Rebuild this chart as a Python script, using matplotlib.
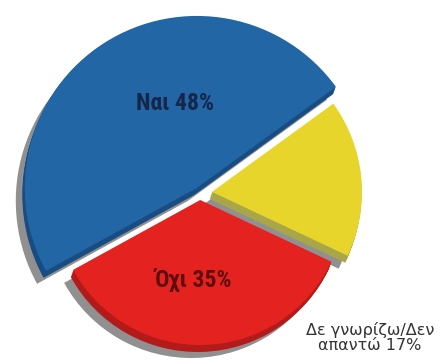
import numpy as np
import matplotlib
matplotlib.use("Agg")
import matplotlib.pyplot as plt

# Ερώτηση δημοσκόπησης: Ναι / Όχι / ΔΓ-ΔΑ
labels = ["Ναι", "Όχι", "Δε γνωρίζω/Δεν\nαπαντώ"]
values = [48, 35, 17]

face_colors = ["#2366a6", "#e42320", "#e8d52c"]
side_colors = ["#184d84", "#b21b19", "#a9a64a"]
shadow_color = "#909090"

W, H = 440, 364
center = (200, H - 193)
radii = [172, 145, 150]   # the "Ναι" slice sticks out a bit
explode = [6, 7, 12]
start = 36

fig = plt.figure(figsize=(W / 100, H / 100), dpi=100)
ax = fig.add_axes([0, 0, 1, 1])


def draw_layer(cx, cy, colors):
    wedges, _ = ax.pie(values, colors=colors, explode=explode, startangle=start,
                       counterclock=True, radius=radii[1], center=(cx, cy),
                       frame=True)
    for w, r in zip(wedges, radii):
        w.set_radius(r)
        w.set_linewidth(0)
    return wedges


# grey drop shadow
draw_layer(center[0] - 9, center[1] - 13, [shadow_color] * 3)
# extruded sides
for k in range(1, 8):
    draw_layer(center[0] - 0.35 * k, center[1] - k, side_colors)
# top faces
draw_layer(center[0], center[1], face_colors)

ax.set_xlim(0, W)
ax.set_ylim(0, H)
ax.set_aspect("equal")
ax.axis("off")

font = ["Roboto Condensed", "Roboto", "DejaVu Sans"]
ax.text(175, H - 103, f"{labels[0]} {values[0]}%", ha="center", va="center",
        fontsize=17, fontweight="bold", color="#16264a", family=font)
ax.text(193, H - 280, f"{labels[1]} {values[1]}%", ha="center", va="center",
        fontsize=17, fontweight="bold", color="#5e0d0c", family=font)
ax.text(370, H - 337, f"{labels[2]} {values[2]}%", ha="center", va="center",
        fontsize=11.5, color="#333333", family="DejaVu Sans", linespacing=1.0)

fig.savefig("out.png", dpi=100, facecolor="white")
